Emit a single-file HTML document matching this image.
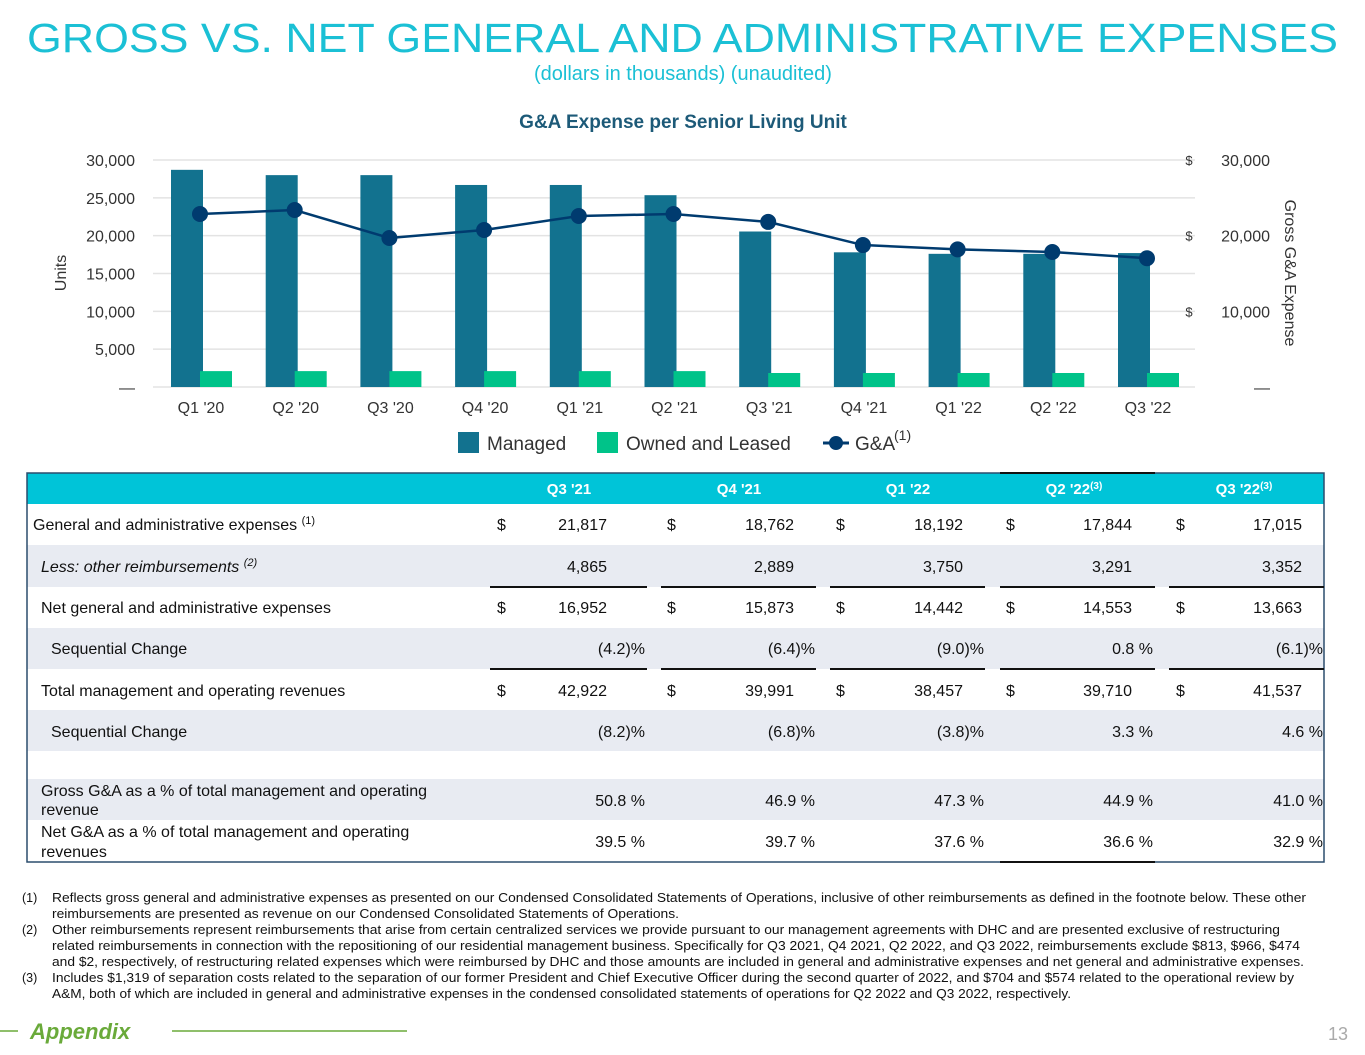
<!DOCTYPE html>
<html><head><meta charset="utf-8"><style>
html,body{margin:0;padding:0;background:#fff;}
svg{display:block;font-family:"Liberation Sans",Arial,sans-serif;}
</style></head><body>
<svg id="page" width="1365" height="1055" viewBox="0 0 1365 1055" xmlns="http://www.w3.org/2000/svg">
<text x="27" y="52" font-size="41" fill="#1bc0d5" textLength="1311" lengthAdjust="spacingAndGlyphs">GROSS VS. NET GENERAL AND ADMINISTRATIVE EXPENSES</text>
<text x="683" y="80" font-size="20" fill="#1bc0d5" text-anchor="middle">(dollars in thousands) (unaudited)</text>
<text x="683" y="128" font-size="19" font-weight="bold" fill="#1d5a78" text-anchor="middle">G&amp;A Expense per Senior Living Unit</text>
<g id="chart"></g>

<!-- legend -->
<g font-size="19" fill="#333">
<rect x="458" y="432" width="21" height="21" fill="#12728f"/>
<text x="487" y="450">Managed</text>
<rect x="597" y="432" width="21" height="21" fill="#00c389"/>
<text x="626" y="450">Owned and Leased</text>
<line x1="823" y1="443" x2="849" y2="443" stroke="#003b6f" stroke-width="3"/>
<circle cx="836" cy="443" r="7" fill="#003b6f"/>
<text x="855" y="450">G&amp;A</text>
<text x="894" y="440" font-size="14">(1)</text>
</g>

<!-- table -->
<g font-size="16" fill="#111">
<rect x="27" y="473" width="1297" height="31" fill="#00c4d8"/>
<rect x="27" y="545" width="1297" height="42" fill="#e8ebf2"/>
<rect x="27" y="628" width="1297" height="41" fill="#e8ebf2"/>
<rect x="27" y="710" width="1297" height="41" fill="#e8ebf2"/>
<rect x="27" y="779" width="1297" height="41" fill="#e8ebf2"/>
<rect x="27" y="473" width="1297" height="389" fill="none" stroke="#2b4d6d" stroke-width="1.5"/>
<line x1="1000" y1="473" x2="1155" y2="473" stroke="#111" stroke-width="2"/>
<line x1="1000" y1="862" x2="1155" y2="862" stroke="#111" stroke-width="2"/>
<g stroke="#111" stroke-width="2">
<line x1="490" y1="587" x2="647" y2="587"/><line x1="661" y1="587" x2="816" y2="587"/><line x1="830" y1="587" x2="985" y2="587"/><line x1="1000" y1="587" x2="1155" y2="587"/><line x1="1169" y1="587" x2="1324" y2="587"/>
<line x1="490" y1="669" x2="647" y2="669"/><line x1="661" y1="669" x2="816" y2="669"/><line x1="830" y1="669" x2="985" y2="669"/><line x1="1000" y1="669" x2="1155" y2="669"/><line x1="1169" y1="669" x2="1324" y2="669"/>
</g>
<g fill="#fff" font-weight="bold" font-size="15" text-anchor="middle">
<text x="569" y="494">Q3 '21</text><text x="739" y="494">Q4 '21</text><text x="908" y="494">Q1 '22</text>
<text x="1074" y="494">Q2 '22<tspan font-size="10" dy="-5">(3)</tspan></text>
<text x="1244" y="494">Q3 '22<tspan font-size="10" dy="-5">(3)</tspan></text>
</g>
<g>
<text x="33" y="530">General and administrative expenses <tspan font-size="11" dy="-6">(1)</tspan></text>
<text x="41" y="572" font-style="italic">Less: other reimbursements <tspan font-size="11" dy="-6">(2)</tspan></text>
<text x="41" y="613">Net general and administrative expenses</text>
<text x="51" y="654">Sequential Change</text>
<text x="41" y="696">Total management and operating revenues</text>
<text x="51" y="737">Sequential Change</text>
<text x="41" y="796">Gross G&amp;A as a % of total management and operating</text>
<text x="41" y="815">revenue</text>
<text x="41" y="837">Net G&amp;A as a % of total management and operating</text>
<text x="41" y="857">revenues</text>
</g>
<g>
<text x="497" y="530">$</text><text x="667" y="530">$</text><text x="836" y="530">$</text><text x="1006" y="530">$</text><text x="1176" y="530">$</text>
<text x="497" y="613">$</text><text x="667" y="613">$</text><text x="836" y="613">$</text><text x="1006" y="613">$</text><text x="1176" y="613">$</text>
<text x="497" y="696">$</text><text x="667" y="696">$</text><text x="836" y="696">$</text><text x="1006" y="696">$</text><text x="1176" y="696">$</text>
</g>
<g text-anchor="end">
<text x="607" y="530">21,817</text><text x="794" y="530">18,762</text><text x="963" y="530">18,192</text><text x="1132" y="530">17,844</text><text x="1302" y="530">17,015</text>
<text x="607" y="572">4,865</text><text x="794" y="572">2,889</text><text x="963" y="572">3,750</text><text x="1132" y="572">3,291</text><text x="1302" y="572">3,352</text>
<text x="607" y="613">16,952</text><text x="794" y="613">15,873</text><text x="963" y="613">14,442</text><text x="1132" y="613">14,553</text><text x="1302" y="613">13,663</text>
<text x="645" y="654">(4.2)%</text><text x="815" y="654">(6.4)%</text><text x="984" y="654">(9.0)%</text><text x="1153" y="654">0.8 %</text><text x="1323" y="654">(6.1)%</text>
<text x="607" y="696">42,922</text><text x="794" y="696">39,991</text><text x="963" y="696">38,457</text><text x="1132" y="696">39,710</text><text x="1302" y="696">41,537</text>
<text x="645" y="737">(8.2)%</text><text x="815" y="737">(6.8)%</text><text x="984" y="737">(3.8)%</text><text x="1153" y="737">3.3 %</text><text x="1323" y="737">4.6 %</text>
<text x="645" y="806">50.8 %</text><text x="815" y="806">46.9 %</text><text x="984" y="806">47.3 %</text><text x="1153" y="806">44.9 %</text><text x="1323" y="806">41.0 %</text>
<text x="645" y="847">39.5 %</text><text x="815" y="847">39.7 %</text><text x="984" y="847">37.6 %</text><text x="1153" y="847">36.6 %</text><text x="1323" y="847">32.9 %</text>
</g>
</g>

<!-- footnotes -->
<g font-size="12.5" fill="#111" lengthAdjust="spacingAndGlyphs">
<text x="22" y="902">(1)</text>
<text x="52" y="902" textLength="1254" lengthAdjust="spacingAndGlyphs">Reflects gross general and administrative expenses as presented on our Condensed Consolidated Statements of Operations, inclusive of other reimbursements as defined in the footnote below. These other</text>
<text x="52" y="918" textLength="627" lengthAdjust="spacingAndGlyphs">reimbursements are presented as revenue on our Condensed Consolidated Statements of Operations.</text>
<text x="22" y="934">(2)</text>
<text x="52" y="934" textLength="1228" lengthAdjust="spacingAndGlyphs">Other reimbursements represent reimbursements that arise from certain centralized services we provide pursuant to our management agreements with DHC and are presented exclusive of restructuring</text>
<text x="52" y="950" textLength="1248" lengthAdjust="spacingAndGlyphs">related reimbursements in connection with the repositioning of our residential management business. Specifically for Q3 2021, Q4 2021, Q2 2022, and Q3 2022, reimbursements exclude $813, $966, $474</text>
<text x="52" y="966" textLength="1252" lengthAdjust="spacingAndGlyphs">and $2, respectively, of restructuring related expenses which were reimbursed by DHC and those amounts are included in general and administrative expenses and net general and administrative expenses.</text>
<text x="22" y="982">(3)</text>
<text x="52" y="982" textLength="1242" lengthAdjust="spacingAndGlyphs">Includes $1,319 of separation costs related to the separation of our former President and Chief Executive Officer during the second quarter of 2022, and $704 and $574 related to the operational review by</text>
<text x="52" y="998" textLength="1019" lengthAdjust="spacingAndGlyphs">A&amp;M, both of which are included in general and administrative expenses in the condensed consolidated statements of operations for Q2 2022 and Q3 2022, respectively.</text>
</g>

<line x1="0" y1="1031" x2="18" y2="1031" stroke="#6aaa3a" stroke-width="1.5"/>
<text x="30" y="1039" font-size="22" font-weight="bold" font-style="italic" fill="#6aaa3a">Appendix</text>
<line x1="172" y1="1031" x2="407" y2="1031" stroke="#6aaa3a" stroke-width="1.5"/>
<text x="1348" y="1040" font-size="18" fill="#aaa" text-anchor="end">13</text>
</svg>
<script>
const categories = ["Q1 '20","Q2 '20","Q3 '20","Q4 '20","Q1 '21","Q2 '21","Q3 '21","Q4 '21","Q1 '22","Q2 '22","Q3 '22"];
const managedUnits = [28700,28000,28000,26700,26700,25350,20550,17800,17600,17600,17700];
const ownedUnits = [2100,2100,2100,2100,2100,2100,1850,1850,1850,1850,1850];
const gaExpense = [22860,23390,19690,20750,22600,22860,21817,18762,18192,17844,17015];
const leftTicks = [0,5000,10000,15000,20000,25000,30000];
const leftTickLabels = ["—","5,000","10,000","15,000","20,000","25,000","30,000"];
const rightTicks = [0,10000,20000,30000];
const rightTickLabels = ["—","10,000","20,000","30,000"];

const NS="http://www.w3.org/2000/svg";
const g=document.getElementById('chart');
const y0=387, y1=160, maxV=30000;
function yScale(v){return y0-(v/maxV)*(y0-y1);}
function yScaleR(v){return y0-(v/maxV)*(y0-y1);}
function xCenter(i){return 200+i*(1147-200)/(categories.length-1);}
function mk(tag,attrs,text){const e=document.createElementNS(NS,tag);for(const k in attrs)e.setAttribute(k,attrs[k]);if(text!==undefined)e.textContent=text;g.appendChild(e);return e;}

leftTicks.forEach((t,i)=>{
  const gl=mk('line',{x1:153,x2:1195,y1:yScale(t),y2:yScale(t),stroke:'#e3e3e3','stroke-width':1.5});
  
  
  const tl=mk('text',{x:135,y:yScale(t)+6,'font-size':16,fill:'#333','text-anchor':'end'},leftTickLabels[i]);
  
  
});
rightTicks.forEach((t,i)=>{
  const tl=mk('text',{x:1270,y:yScaleR(t)+6,'font-size':16,fill:'#333','text-anchor':'end'},rightTickLabels[i]);
  
  
  if(t>0){
    const d=mk('text',{x:1189,y:yScaleR(t)+5,'font-size':13,fill:'#333','text-anchor':'middle'},'$');
    
    
  }
});
const ul=mk('text',{x:0,y:0,'font-size':16,fill:'#333','text-anchor':'middle',transform:'translate(66,273) rotate(-90)'},'Units');


const rl=mk('text',{x:0,y:0,'font-size':16,fill:'#333','text-anchor':'middle',transform:'translate(1285,273) rotate(90)'},'Gross G&A Expense');



categories.forEach((c,i)=>{
  const cx=xCenter(i);
  const b=mk('rect',{x:cx-29,y:yScale(managedUnits[i]),width:32,height:y0-yScale(managedUnits[i]),fill:'#12728f'});
  
  
  const o=mk('rect',{x:cx,y:yScale(ownedUnits[i]),width:32,height:y0-yScale(ownedUnits[i]),fill:'#00c389'});
  
  
  const xl=mk('text',{x:cx+1,y:413,'font-size':16,fill:'#333','text-anchor':'middle'},c);
  
  
});
const pts=gaExpense.map((v,i)=>xCenter(i)+','+yScaleR(v)).join(' ');
const pl=mk('polyline',{points:pts,fill:'none',stroke:'#003b6f','stroke-width':2.5});


gaExpense.forEach((v,i)=>{
  const c=mk('circle',{cx:xCenter(i),cy:yScaleR(v),r:8,fill:'#003b6f'});
  
  
});
</script>
</body></html>
